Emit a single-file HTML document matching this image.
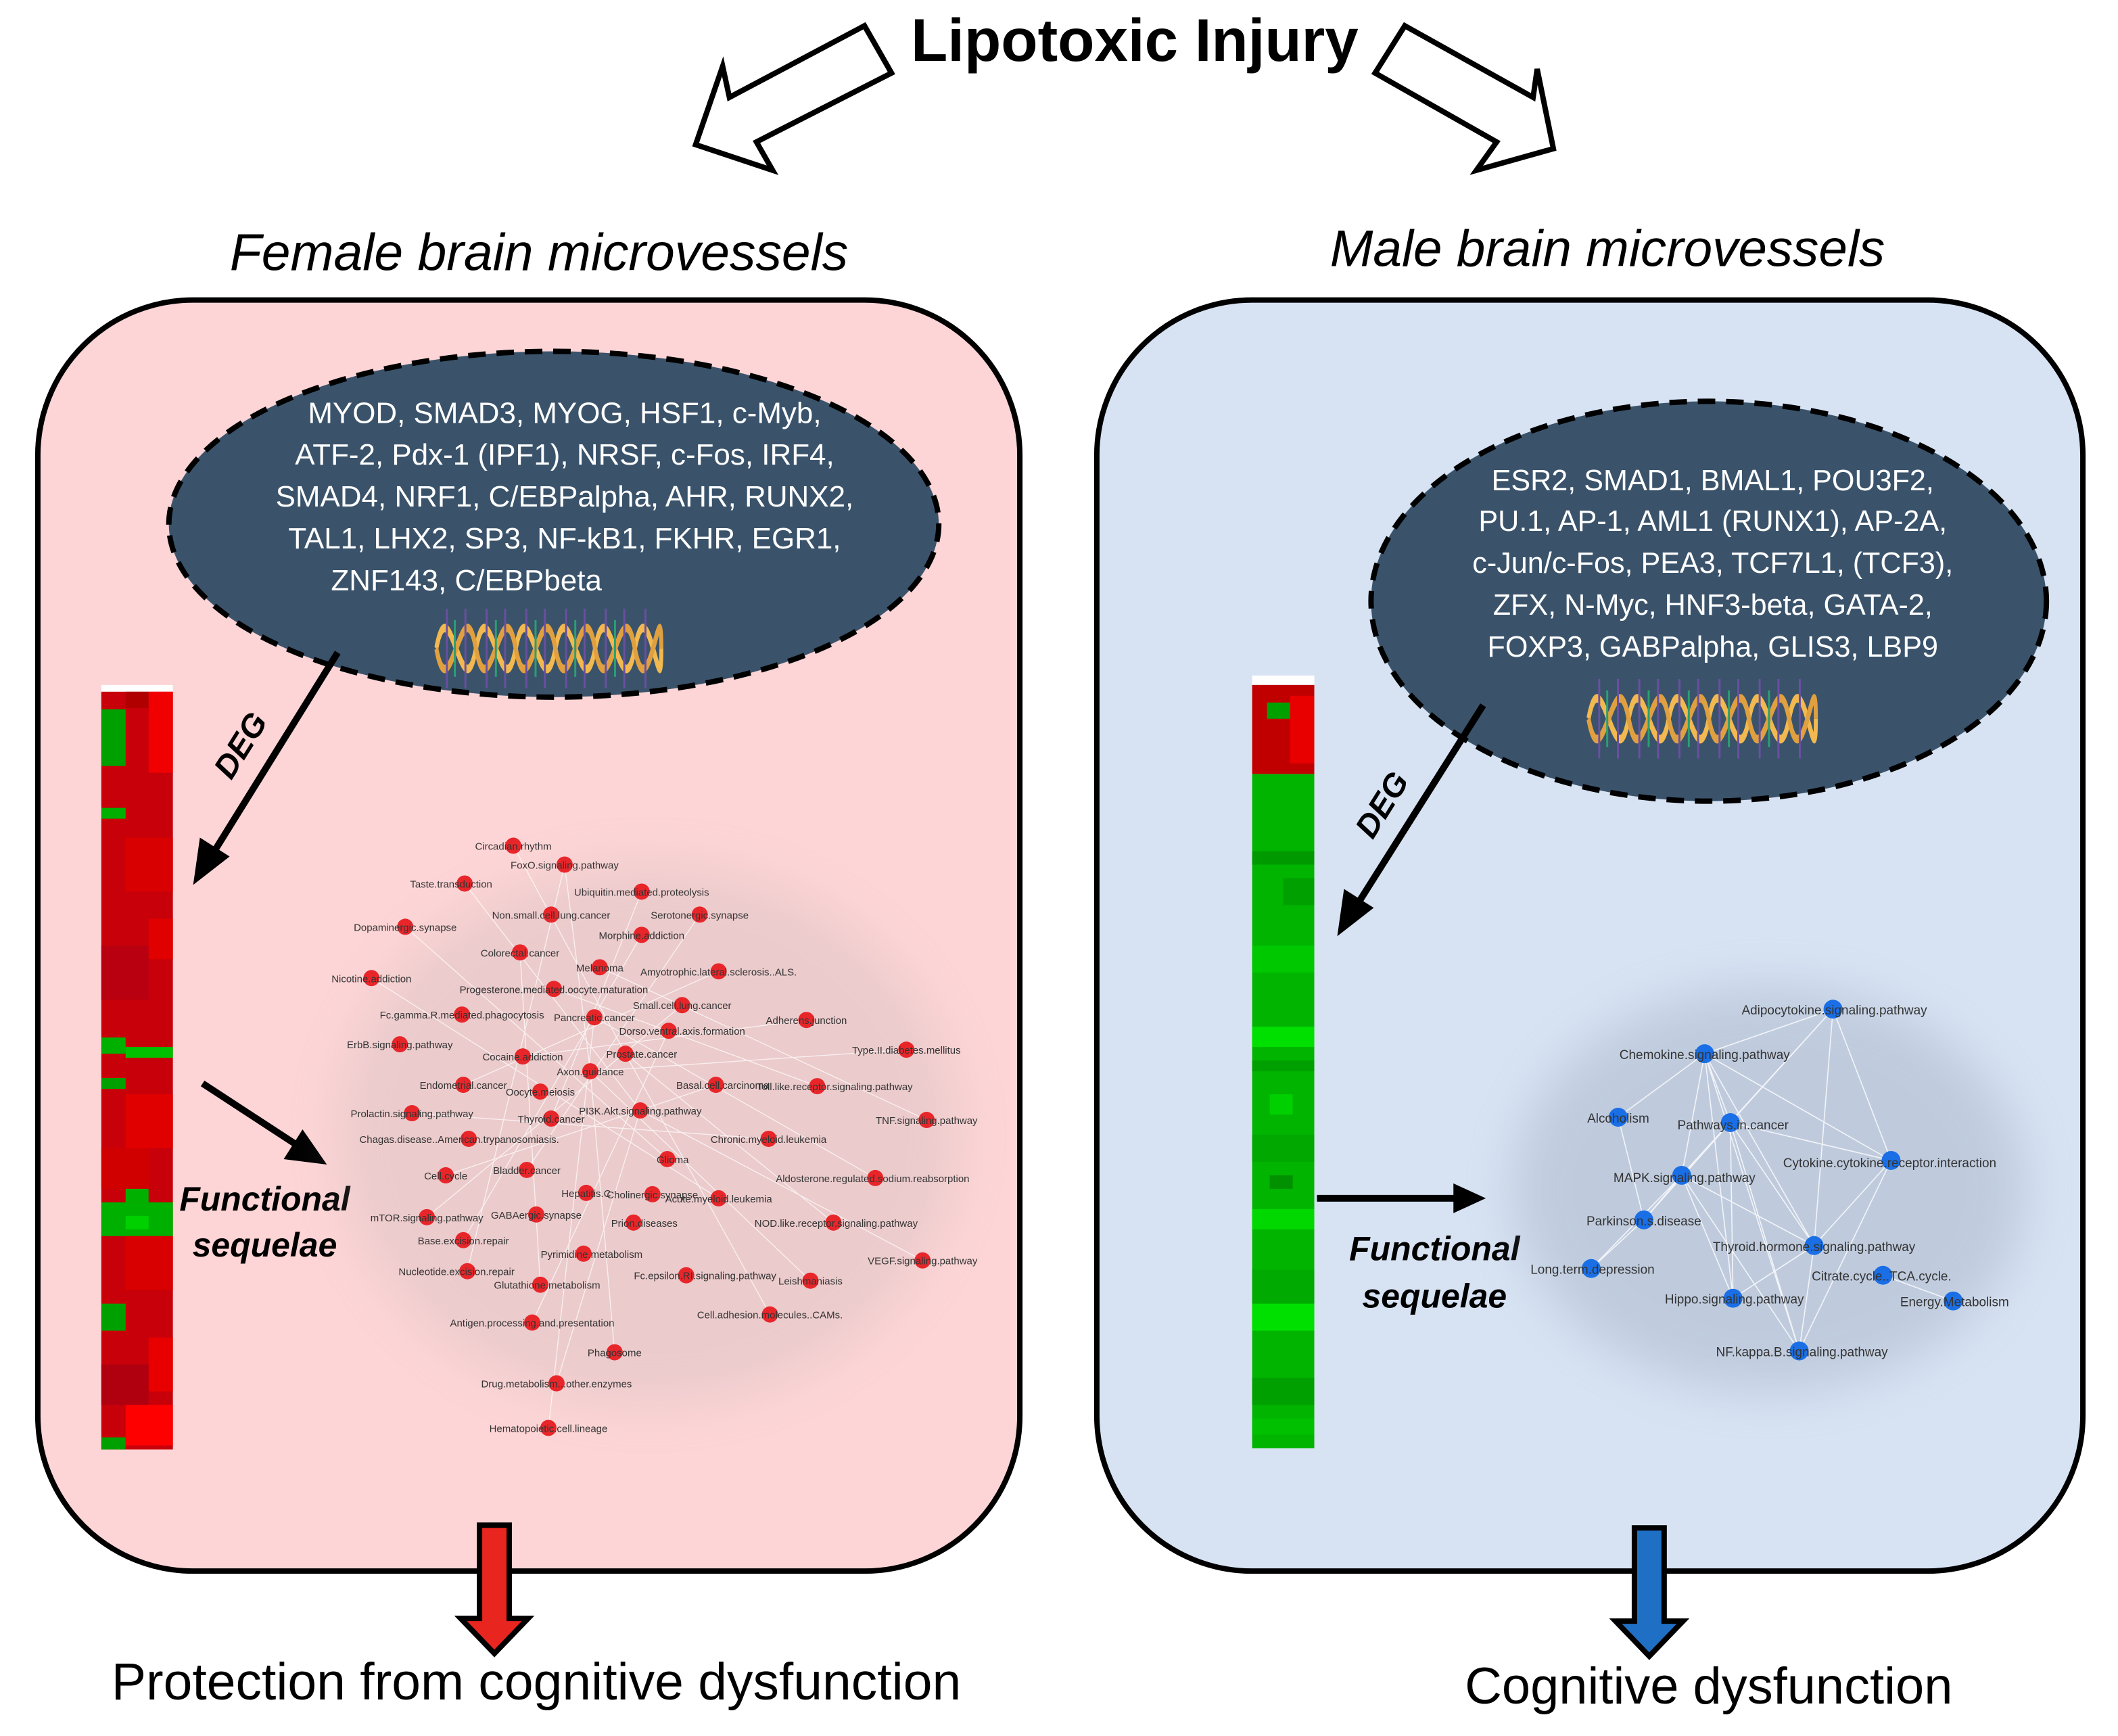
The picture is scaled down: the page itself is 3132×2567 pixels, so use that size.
<!DOCTYPE html>
<html><head><meta charset="utf-8"><style>
html,body{margin:0;padding:0;background:#fff}
svg{display:block}
text{font-family:"Liberation Sans",sans-serif}
</style></head><body>
<svg width="3132" height="2567" viewBox="0 0 1568 1285" xmlns="http://www.w3.org/2000/svg">
<defs>
<filter id="bl" x="-50%" y="-50%" width="200%" height="200%"><feGaussianBlur stdDeviation="18"/></filter>
<g id="dna">
<path d="M0,0 C10,-25 20,25 30,0 C40,-25 50,25 60,0 C70,-25 80,25 90,0 C100,-25 110,25 120,0 C130,-25 140,25 150,0 C160,-25 170,25 170,0" fill="none" stroke="#f2b950" stroke-width="3"/>
<path d="M0,0 C10,25 20,-25 30,0 C40,25 50,-25 60,0 C70,25 80,-25 90,0 C100,25 110,-25 120,0 C130,25 140,-25 150,0 C160,25 170,-25 170,0" fill="none" stroke="#e0a040" stroke-width="3"/>
<g stroke-width="1.5"><path d="M8,-14v28M22,-14v28M38,-14v28M52,-14v28M68,-14v28M82,-14v28M98,-14v28M112,-14v28M128,-14v28M142,-14v28M158,-14v28" stroke="#6a4fa0"/><path d="M14,-10v20M45,-10v20M75,-10v20M105,-10v20M135,-10v20" stroke="#2aa070"/></g>
</g>
</defs>

<text x="840" y="45" font-size="44.5" font-weight="bold" text-anchor="middle">Lipotoxic Injury</text>
<polygon points="640,19 540,72 535,49 515,107 572,126 560,105 660,54" fill="#fff" stroke="#000" stroke-width="4"/>
<polygon points="1040,19 1135,72 1138,51 1150,110 1093,126 1108,105 1018,54" fill="#fff" stroke="#000" stroke-width="4"/>

<text x="399" y="200" font-size="38.5" font-style="italic" text-anchor="middle">Female brain microvessels</text>
<text x="1190" y="197" font-size="38.3" font-style="italic" text-anchor="middle">Male brain microvessels</text>

<rect x="28" y="222" width="727" height="941" rx="115" fill="#fdd5d6" stroke="#000" stroke-width="4"/>
<rect x="812" y="222" width="730" height="941" rx="115" fill="#d7e3f3" stroke="#000" stroke-width="4"/>

<ellipse cx="410" cy="388" rx="285" ry="128" fill="#3a536b" stroke="#000" stroke-width="4" stroke-dasharray="13,8"/>
<g fill="#fff" font-size="22" text-anchor="middle">
<text x="418" y="313">MYOD, SMAD3, MYOG, HSF1, c-Myb,</text>
<text x="418" y="344">ATF-2, Pdx-1 (IPF1), NRSF, c-Fos, IRF4,</text>
<text x="418" y="375">SMAD4, NRF1, C/EBPalpha, AHR, RUNX2,</text>
<text x="418" y="406">TAL1, LHX2, SP3, NF-kB1, FKHR, EGR1,</text>
<text x="245" y="437" text-anchor="start">ZNF143, C/EBPbeta</text>
</g>
<use href="#dna" transform="translate(323,480) scale(0.98,2.1)"/>

<ellipse cx="1265" cy="445" rx="250" ry="148" fill="#3a536b" stroke="#000" stroke-width="4" stroke-dasharray="13,8"/>
<g fill="#fff" font-size="21.6" text-anchor="middle">
<text x="1268" y="363">ESR2, SMAD1, BMAL1, POU3F2,</text>
<text x="1268" y="393">PU.1, AP-1, AML1 (RUNX1), AP-2A,</text>
<text x="1268" y="424">c-Jun/c-Fos, PEA3, TCF7L1, (TCF3),</text>
<text x="1268" y="455">ZFX, N-Myc, HNF3-beta, GATA-2,</text>
<text x="1268" y="486">FOXP3, GABPalpha, GLIS3, LBP9</text>
</g>
<use href="#dna" transform="translate(1176,532) scale(0.99,2.1)"/>

<rect x="75" y="507" width="53" height="5" fill="#fff"/>
<rect x="75" y="512" width="53" height="561" fill="#c8000a"/>
<g>
<rect x="110" y="512" width="18" height="60" fill="#f00000"/>
<rect x="93" y="512" width="17" height="12" fill="#b00000"/>
<rect x="75" y="525" width="18" height="42" fill="#00a000"/>
<rect x="75" y="598" width="18" height="8" fill="#00b000"/>
<rect x="93" y="620" width="35" height="40" fill="#d80000"/>
<rect x="110" y="680" width="18" height="30" fill="#e00000"/>
<rect x="75" y="700" width="35" height="40" fill="#b80010"/>
<rect x="75" y="768" width="18" height="12" fill="#00b000"/>
<rect x="93" y="775" width="35" height="8" fill="#00c000"/>
<rect x="75" y="798" width="18" height="8" fill="#00a000"/>
<rect x="93" y="810" width="35" height="40" fill="#e00000"/>
<rect x="75" y="850" width="35" height="30" fill="#d00000"/>
<rect x="93" y="880" width="17" height="10" fill="#00b000"/>
<rect x="75" y="890" width="53" height="25" fill="#00b000"/>
<rect x="93" y="900" width="17" height="10" fill="#00d000"/>
<rect x="93" y="915" width="35" height="40" fill="#d80000"/>
<rect x="75" y="965" width="18" height="20" fill="#00a000"/>
<rect x="110" y="990" width="18" height="40" fill="#e80000"/>
<rect x="75" y="1010" width="35" height="30" fill="#b00010"/>
<rect x="93" y="1040" width="35" height="30" fill="#ff0000"/>
<rect x="75" y="1064" width="18" height="9" fill="#00a000"/>
</g>

<rect x="927" y="500" width="46" height="7" fill="#fff"/>
<rect x="927" y="507" width="46" height="66" fill="#c00000"/>
<rect x="955" y="515" width="18" height="50" fill="#e80000"/>
<rect x="938" y="520" width="17" height="12" fill="#00a000"/>
<rect x="927" y="573" width="46" height="499" fill="#00b400"/>
<g>
<rect x="927" y="630" width="46" height="10" fill="#009a00"/>
<rect x="950" y="650" width="23" height="20" fill="#00a000"/>
<rect x="927" y="700" width="46" height="20" fill="#00c800"/>
<rect x="927" y="760" width="46" height="15" fill="#00e000"/>
<rect x="927" y="785" width="46" height="8" fill="#00a000"/>
<rect x="940" y="810" width="17" height="15" fill="#00d000"/>
<rect x="927" y="840" width="46" height="20" fill="#00a800"/>
<rect x="940" y="870" width="17" height="10" fill="#009000"/>
<rect x="927" y="895" width="46" height="15" fill="#00d800"/>
<rect x="927" y="940" width="46" height="25" fill="#00aa00"/>
<rect x="927" y="965" width="46" height="20" fill="#00e000"/>
<rect x="927" y="1020" width="46" height="20" fill="#00a000"/>
<rect x="927" y="1050" width="46" height="12" fill="#00c000"/>
</g>

<g stroke="#000" stroke-width="5" fill="#000">
<line x1="250" y1="483" x2="155" y2="636"/>
<polygon points="143,655 148,620 170,634" stroke="none"/>
<line x1="1098" y1="522" x2="1002" y2="674"/>
<polygon points="990,693 995,658 1017,672" stroke="none"/>
<line x1="150" y1="802" x2="225" y2="851"/>
<polygon points="242,862 210,858 224,836" stroke="none"/>
<line x1="975" y1="887" x2="1078" y2="887"/>
<polygon points="1100,887 1076,876 1076,898" stroke="none"/>
</g>
<text transform="translate(185,556) rotate(-58)" font-size="24" font-weight="bold" font-style="italic" text-anchor="middle">DEG</text>
<text transform="translate(1030,600) rotate(-58)" font-size="24" font-weight="bold" font-style="italic" text-anchor="middle">DEG</text>
<g font-size="25" font-weight="bold" font-style="italic" text-anchor="middle">
<text x="196" y="896">Functional</text><text x="196" y="930">sequelae</text>
<text x="1062" y="933">Functional</text><text x="1062" y="968">sequelae</text>
</g>

<ellipse cx="480" cy="840" rx="230" ry="200" fill="#b8aeb0" opacity="0.25" filter="url(#bl)"/>
<g stroke="#fff" stroke-width="0.7" opacity="0.7">
<path d="M380,626L463,780M418,640L437,793M344,654L474,822M475,660L408,828M300,686L494,858M518,677L390,866M275,724L532,887M532,719L343,803M597,755L387,782M671,777L437,793M686,829L444,716M605,804L410,732M648,872L440,753M617,905L463,780M683,933L474,822M600,948L437,793M570,973L463,780M455,1001L437,793M412,1024L474,822M406,1057L440,753M394,979L495,763M316,901L505,744M305,824L569,843M330,870L530,803M343,918L475,692M346,941L418,640M400,951L385,705"/>
</g>
<g fill="#e8262a">
<circle cx="380" cy="626" r="6"/><circle cx="418" cy="640" r="6"/><circle cx="344" cy="654" r="6"/><circle cx="475" cy="660" r="6"/><circle cx="408" cy="677" r="6"/><circle cx="518" cy="677" r="6"/><circle cx="300" cy="686" r="6"/><circle cx="475" cy="692" r="6"/><circle cx="385" cy="705" r="6"/><circle cx="444" cy="716" r="6"/><circle cx="532" cy="719" r="6"/><circle cx="275" cy="724" r="6"/><circle cx="410" cy="732" r="6"/><circle cx="505" cy="744" r="6"/><circle cx="342" cy="751" r="6"/><circle cx="440" cy="753" r="6"/><circle cx="597" cy="755" r="6"/><circle cx="495" cy="763" r="6"/><circle cx="296" cy="773" r="6"/><circle cx="463" cy="780" r="6"/><circle cx="671" cy="777" r="6"/><circle cx="387" cy="782" r="6"/><circle cx="437" cy="793" r="6"/><circle cx="530" cy="803" r="6"/><circle cx="605" cy="804" r="6"/><circle cx="343" cy="803" r="6"/><circle cx="400" cy="808" r="6"/><circle cx="474" cy="822" r="6"/><circle cx="305" cy="824" r="6"/><circle cx="686" cy="829" r="6"/><circle cx="408" cy="828" r="6"/><circle cx="569" cy="843" r="6"/><circle cx="347" cy="843" r="6"/><circle cx="494" cy="858" r="6"/><circle cx="390" cy="866" r="6"/><circle cx="330" cy="870" r="6"/><circle cx="648" cy="872" r="6"/><circle cx="434" cy="883" r="6"/><circle cx="483" cy="884" r="6"/><circle cx="532" cy="887" r="6"/><circle cx="316" cy="901" r="6"/><circle cx="397" cy="899" r="6"/><circle cx="469" cy="905" r="6"/><circle cx="617" cy="905" r="6"/><circle cx="343" cy="918" r="6"/><circle cx="683" cy="933" r="6"/><circle cx="432" cy="928" r="6"/><circle cx="346" cy="941" r="6"/><circle cx="400" cy="951" r="6"/><circle cx="508" cy="944" r="6"/><circle cx="600" cy="948" r="6"/><circle cx="570" cy="973" r="6"/><circle cx="394" cy="979" r="6"/><circle cx="455" cy="1001" r="6"/><circle cx="412" cy="1024" r="6"/><circle cx="406" cy="1057" r="6"/>
</g>
<g font-size="7.5" fill="#333" text-anchor="middle">
<text x="380" y="629">Circadian.rhythm</text><text x="418" y="643">FoxO.signaling.pathway</text><text x="334" y="657">Taste.transduction</text><text x="475" y="663">Ubiquitin.mediated.proteolysis</text><text x="408" y="680">Non.small.cell.lung.cancer</text><text x="518" y="680">Serotonergic.synapse</text><text x="300" y="689">Dopaminergic.synapse</text><text x="475" y="695">Morphine.addiction</text><text x="385" y="708">Colorectal.cancer</text><text x="444" y="719">Melanoma</text><text x="532" y="722">Amyotrophic.lateral.sclerosis..ALS.</text><text x="275" y="727">Nicotine.addiction</text><text x="410" y="735">Progesterone.mediated.oocyte.maturation</text><text x="505" y="747">Small.cell.lung.cancer</text><text x="342" y="754">Fc.gamma.R.mediated.phagocytosis</text><text x="440" y="756">Pancreatic.cancer</text><text x="597" y="758">Adherens.junction</text><text x="505" y="766">Dorso.ventral.axis.formation</text><text x="296" y="776">ErbB.signaling.pathway</text><text x="475" y="783">Prostate.cancer</text><text x="671" y="780">Type.II.diabetes.mellitus</text><text x="387" y="785">Cocaine.addiction</text><text x="437" y="796">Axon.guidance</text><text x="535" y="806">Basal.cell.carcinoma</text><text x="618" y="807">Toll.like.receptor.signaling.pathway</text><text x="343" y="806">Endometrial.cancer</text><text x="400" y="811">Oocyte.meiosis</text><text x="474" y="825">PI3K.Akt.signaling.pathway</text><text x="305" y="827">Prolactin.signaling.pathway</text><text x="686" y="832">TNF.signaling.pathway</text><text x="408" y="831">Thyroid.cancer</text><text x="569" y="846">Chronic.myeloid.leukemia</text><text x="340" y="846">Chagas.disease..American.trypanosomiasis.</text><text x="498" y="861">Glioma</text><text x="390" y="869">Bladder.cancer</text><text x="330" y="873">Cell.cycle</text><text x="646" y="875">Aldosterone.regulated.sodium.reabsorption</text><text x="434" y="886">Hepatitis.C</text><text x="483" y="887">Cholinergic.synapse</text><text x="532" y="890">Acute.myeloid.leukemia</text><text x="316" y="904">mTOR.signaling.pathway</text><text x="397" y="902">GABAergic.synapse</text><text x="477" y="908">Prion.diseases</text><text x="619" y="908">NOD.like.receptor.signaling.pathway</text><text x="343" y="921">Base.excision.repair</text><text x="683" y="936">VEGF.signaling.pathway</text><text x="438" y="931">Pyrimidine.metabolism</text><text x="338" y="944">Nucleotide.excision.repair</text><text x="405" y="954">Glutathione.metabolism</text><text x="522" y="947">Fc.epsilon.RI.signaling.pathway</text><text x="600" y="951">Leishmaniasis</text><text x="570" y="976">Cell.adhesion.molecules..CAMs.</text><text x="394" y="982">Antigen.processing.and.presentation</text><text x="455" y="1004">Phagosome</text><text x="412" y="1027">Drug.metabolism...other.enzymes</text><text x="406" y="1060">Hematopoietic.cell.lineage</text>
</g>

<ellipse cx="1310" cy="880" rx="190" ry="150" fill="#8a97ad" opacity="0.3" filter="url(#bl)"/>
<g stroke="#fff" stroke-width="0.8" opacity="0.8">
<path d="M1357,747L1262,780M1357,747L1281,831M1357,747L1400,859M1357,747L1343,922M1357,747L1245,870M1262,780L1198,827M1262,780L1281,831M1262,780L1245,870M1262,780L1343,922M1262,780L1283,961M1262,780L1332,1000M1262,780L1400,859M1281,831L1245,870M1281,831L1343,922M1281,831L1283,961M1281,831L1332,1000M1281,831L1217,903M1245,870L1217,903M1245,870L1343,922M1245,870L1283,961M1245,870L1332,1000M1245,870L1178,939M1217,903L1178,939M1400,859L1343,922M1400,859L1332,1000M1343,922L1283,961M1343,922L1332,1000M1394,944L1446,963M1198,827L1217,903M1281,831L1400,859"/>
</g>
<g fill="#1a6fe6">
<circle cx="1357" cy="747" r="7"/><circle cx="1262" cy="780" r="7"/><circle cx="1198" cy="827" r="7"/><circle cx="1281" cy="831" r="7"/><circle cx="1400" cy="859" r="7"/><circle cx="1245" cy="870" r="7"/><circle cx="1217" cy="903" r="7"/><circle cx="1343" cy="922" r="7"/><circle cx="1178" cy="939" r="7"/><circle cx="1394" cy="944" r="7"/><circle cx="1283" cy="961" r="7"/><circle cx="1446" cy="963" r="7"/><circle cx="1332" cy="1000" r="7"/>
</g>
<g font-size="9.5" fill="#333" text-anchor="middle">
<text x="1358" y="751">Adipocytokine.signaling.pathway</text>
<text x="1262" y="784">Chemokine.signaling.pathway</text>
<text x="1198" y="831">Alcoholism</text>
<text x="1283" y="836">Pathways.in.cancer</text>
<text x="1399" y="864">Cytokine.cytokine.receptor.interaction</text>
<text x="1247" y="875">MAPK.signaling.pathway</text>
<text x="1217" y="907">Parkinson.s.disease</text>
<text x="1343" y="926">Thyroid.hormone.signaling.pathway</text>
<text x="1179" y="943">Long.term.depression</text>
<text x="1393" y="948">Citrate.cycle..TCA.cycle.</text>
<text x="1284" y="965">Hippo.signaling.pathway</text>
<text x="1447" y="967">Energy.Metabolism</text>
<text x="1334" y="1004">NF.kappa.B.signaling.pathway</text>
</g>

<polygon points="355,1129 377,1129 377,1198 391,1198 366,1224 341,1198 355,1198" fill="#e8251f" stroke="#000" stroke-width="4"/>
<polygon points="1210,1131 1232,1131 1232,1200 1246,1200 1221,1226 1196,1200 1210,1200" fill="#1f6fc4" stroke="#000" stroke-width="4"/>

<text x="397" y="1258" font-size="38.5" text-anchor="middle">Protection from cognitive dysfunction</text>
<text x="1265" y="1261" font-size="38" text-anchor="middle">Cognitive dysfunction</text>
</svg>
</body></html>
